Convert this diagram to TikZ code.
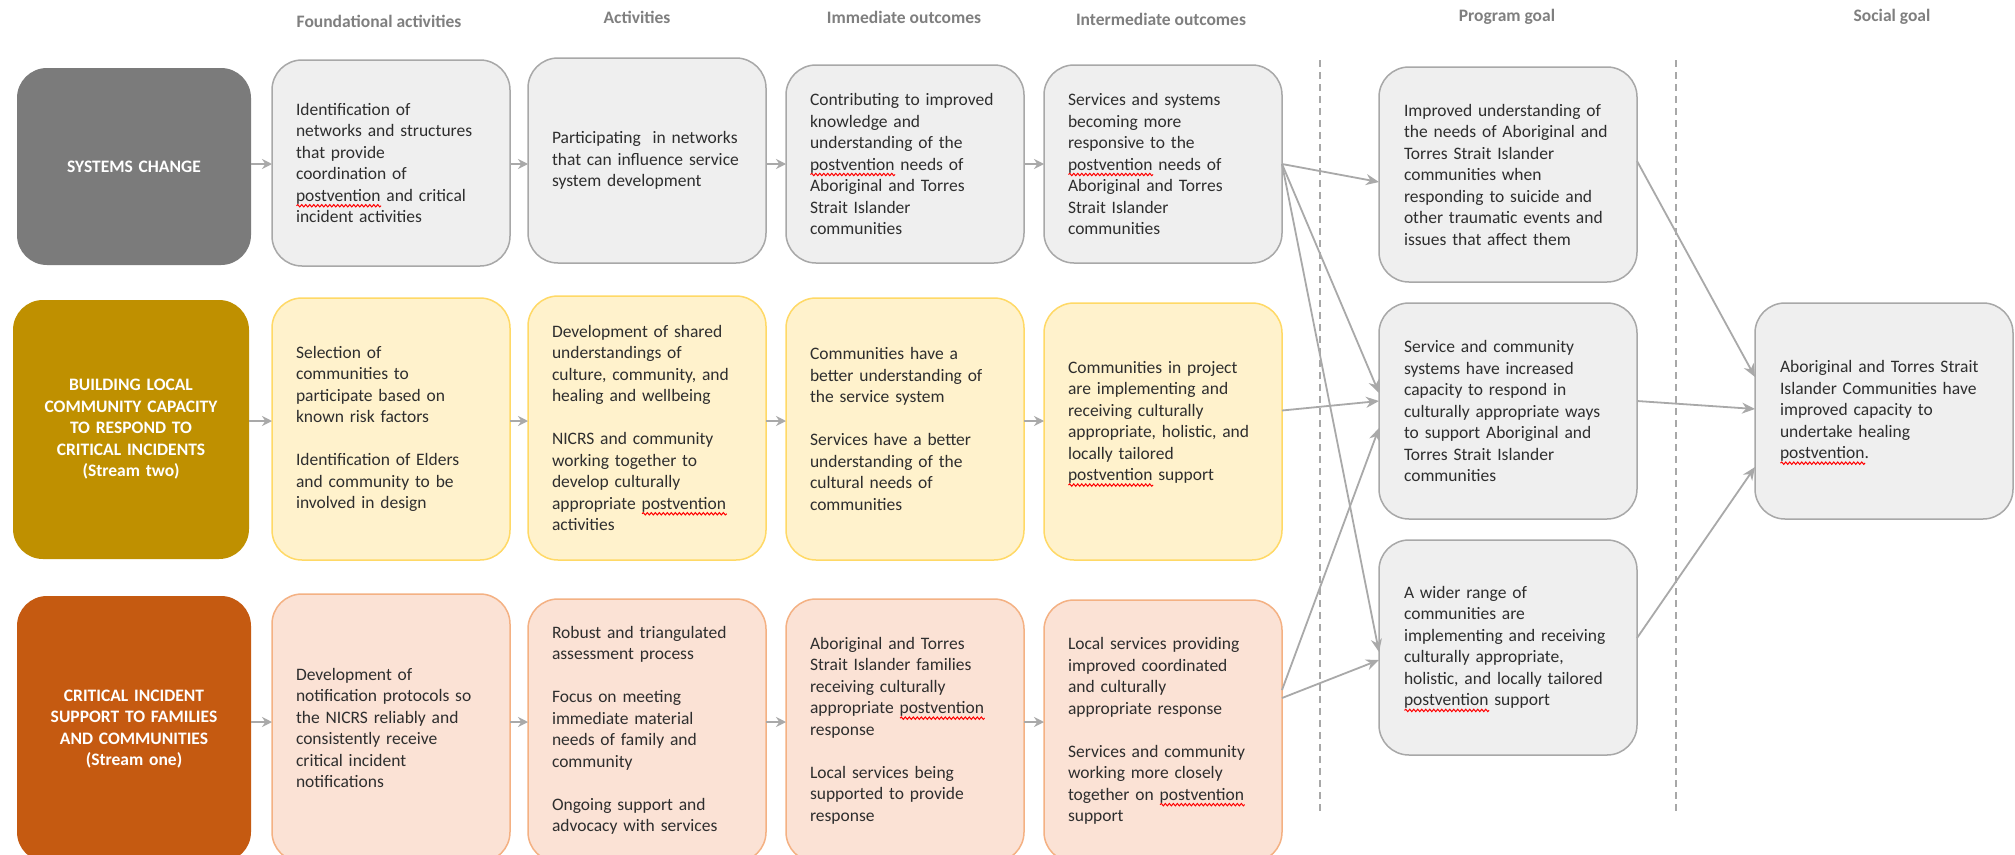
\documentclass[tikz,border=0pt]{standalone}
\usepackage{fontspec}
\setmainfont{Carlito}
\usetikzlibrary{arrows.meta,decorations.pathmorphing}

\definecolor{sysgray}{HTML}{7B7B7B}
\definecolor{gold}{HTML}{BF9000}
\definecolor{rust}{HTML}{C55A11}
\definecolor{paleGray}{HTML}{EFEFEF}
\definecolor{edgeGray}{HTML}{A8A8A8}
\definecolor{paleYellow}{HTML}{FFF2CC}
\definecolor{edgeYellow}{HTML}{FFD966}
\definecolor{palePeach}{HTML}{FBE2D5}
\definecolor{edgePeach}{HTML}{F4B183}
\definecolor{linkGray}{HTML}{A9A9A9}
\definecolor{ink}{HTML}{2E2E2E}
\definecolor{headGray}{HTML}{7F7F7F}

% "postvention" with a red spell-check wave beneath it
\newlength{\pvlen}
\newcommand{\pv}{\leavevmode\settowidth{\pvlen}{postvention}%
  \rlap{\smash{\tikz[baseline=0pt]\draw[red, line width=1bp, sharp corners, decorate,
    decoration={snake, amplitude=1.2bp, segment length=4bp}]
    (0pt,-4.5bp) -- (\pvlen,-4.5bp);}}postvention}

\tikzset{
  card/.style={rounded corners=30bp, line width=1.5bp, inner xsep=24bp, inner ysep=0pt,
    align=left, anchor=north west, outer sep=0pt, text=ink,
    font=\fontsize{17.5bp}{21.5bp}\selectfont},
  narrow/.style={minimum width=238bp, text width=190bp},
  wide/.style={minimum width=258bp, text width=208bp, inner xsep=25bp},
  graycard/.style={card, fill=paleGray, draw=edgeGray},
  yellowcard/.style={card, fill=paleYellow, draw=edgeYellow},
  peachcard/.style={card, fill=palePeach, draw=edgePeach},
  theme/.style={rounded corners=30bp, anchor=north west, outer sep=0pt, inner xsep=10bp,
    inner ysep=0pt, align=center, text=white,
    font=\fontsize{17.5bp}{21.5bp}\selectfont\bfseries},
  colhead/.style={text=headGray, font=\fontsize{17.5bp}{21.5bp}\selectfont\bfseries},
  flow/.style={draw=linkGray, line width=2bp, -{Stealth[length=10bp,width=10bp]}},
  link/.style={draw=linkGray, line width=1.8bp, -{Stealth[length=13bp,width=11bp]}},
  divider/.style={draw=edgeGray, line width=1.3bp, dash pattern=on 7bp off 5bp},
}

\begin{document}
\begin{tikzpicture}[x=1bp, y=-1bp]
\useasboundingbox (0,0) rectangle (2015,855);
\clip (0,0) rectangle (2015,855);
\fill[white] (0,0) rectangle (2015,855);

% column headings
\node[colhead] (hF) at (379,21) {Foundational activities};
\node[colhead] (hA) at (637,17) {Activities};
\node[colhead] (hI) at (904,17) {Immediate outcomes};
\node[colhead] (hT) at (1161,19) {Intermediate outcomes};
\node[colhead] (hP) at (1507,17) {Program goal};
\node[colhead] (hS) at (1892,17) {Social goal};

% dashed dividers
\coordinate (d1t) at (1320,60);  \coordinate (d1b) at (1320,813);
\coordinate (d2t) at (1676,60);  \coordinate (d2b) at (1676,813);
\draw[divider] (d1t) -- (d1b);
\draw[divider] (d2t) -- (d2b);

% ---------- stream themes ----------
\node[theme, fill=sysgray, minimum width=234bp, minimum height=197bp, text width=214bp]
  (L1) at (17,68) {SYSTEMS CHANGE};
\node[theme, fill=gold, minimum width=236bp, minimum height=259bp, text width=216bp]
  (L2) at (13,300) {BUILDING LOCAL\\COMMUNITY CAPACITY\\TO RESPOND TO\\CRITICAL INCIDENTS\\(Stream two)};
\node[theme, fill=rust, minimum width=234bp, minimum height=266bp, text width=214bp]
  (L3) at (17,596) {CRITICAL INCIDENT\\SUPPORT TO FAMILIES\\AND COMMUNITIES\\(Stream one)};

% ---------- row 1: systems change ----------
\node[graycard, narrow, minimum height=206bp] (F1) at (272,60)
  {Identification of\\networks and structures\\that provide\\coordination of\\\pv{} and critical\\incident activities};
\node[graycard, narrow, minimum height=205bp] (A1) at (528,58)
  {Participating\ \ in networks\\that can influence service\\system development};
\node[graycard, narrow, minimum height=198bp] (I1) at (786,65)
  {Contributing to improved\\knowledge and\\understanding of the\\\pv{} needs of\\Aboriginal and Torres\\Strait Islander\\communities};
\node[graycard, narrow, minimum height=198bp] (T1) at (1044,65)
  {Services and systems\\becoming more\\responsive to the\\\pv{} needs of\\Aboriginal and Torres\\Strait Islander\\communities};

% ---------- row 2: local capacity ----------
\node[yellowcard, narrow, minimum height=262bp] (F2) at (272,298)
  {Selection of\\communities to\\participate based on\\known risk factors\\[21.5bp]Identification of Elders\\and community to be\\involved in design};
\node[yellowcard, narrow, minimum height=264bp] (A2) at (528,296)
  {Development of shared\\understandings of\\culture, community, and\\healing and wellbeing\\[21.5bp]NICRS and community\\working together to\\develop culturally\\appropriate \pv\\activities};
\node[yellowcard, narrow, minimum height=262bp] (I2) at (786,298)
  {Communities have a\\better understanding of\\the service system\\[21.5bp]Services have a better\\understanding of the\\cultural needs of\\communities};
\node[yellowcard, narrow, minimum height=257bp] (T2) at (1044,303)
  {Communities in project\\are implementing and\\receiving culturally\\appropriate, holistic, and\\locally tailored\\\pv{} support\\\mbox{}};

% ---------- row 3: critical incident support ----------
\node[peachcard, narrow, minimum height=268bp] (F3) at (272,594)
  {Development of\\notification protocols so\\the NICRS reliably and\\consistently receive\\critical incident\\notifications};
\node[peachcard, narrow, minimum height=263bp] (A3) at (528,599)
  {Robust and triangulated\\assessment process\\[21.5bp]Focus on meeting\\immediate material\\needs of family and\\community\\[21.5bp]Ongoing support and\\advocacy with services};
\node[peachcard, narrow, minimum height=263bp] (I3) at (786,599)
  {Aboriginal and Torres\\Strait Islander families\\receiving culturally\\appropriate \pv\\response\\[21.5bp]Local services being\\supported to provide\\response};
\node[peachcard, narrow, minimum height=262bp] (T3) at (1044,600)
  {Local services providing\\improved coordinated\\and culturally\\appropriate response\\[21.5bp]Services and community\\working more closely\\together on \pv\\support};

% ---------- program goals ----------
\node[graycard, wide, minimum height=215bp] (P1) at (1379,67)
  {Improved understanding of\\the needs of Aboriginal and\\Torres Strait Islander\\communities when\\responding to suicide and\\other traumatic events and\\issues that affect them};
\node[graycard, wide, minimum height=216bp] (P2) at (1379,303)
  {Service and community\\systems have increased\\capacity to respond in\\culturally appropriate ways\\to support Aboriginal and\\Torres Strait Islander\\communities};
\node[graycard, wide, minimum height=215bp] (P3) at (1379,540)
  {A wider range of\\communities are\\implementing and receiving\\culturally appropriate,\\holistic, and locally tailored\\\pv{} support};

% ---------- social goal ----------
\node[graycard, wide, minimum height=216bp] (S) at (1755,303)
  {Aboriginal and Torres Strait\\Islander Communities have\\improved capacity to\\undertake healing\\\pv.};

% ---------- flow along each stream ----------
\coordinate (r1) at (0,164);
\coordinate (r2) at (0,421);
\coordinate (r3) at (0,722);
\foreach \a/\b/\r in {L1/F1/r1, F1/A1/r1, A1/I1/r1, I1/T1/r1,
                      L2/F2/r2, F2/A2/r2, A2/I2/r2, I2/T2/r2,
                      L3/F3/r3, F3/A3/r3, A3/I3/r3, I3/T3/r3}
  \draw[flow] (\a.east |- \r) -- (\b.west |- \r);

% ---------- outcomes to program goals ----------
\draw[link] (T1.east) -- ([yshift=-7.5bp]P1.west);
\draw[link] (T1.east) -- ([yshift=18bp]P2.west);
\draw[link] (T1.east) -- ([yshift=-4.5bp]P3.west);
\draw[link] ([yshift=21bp]T2.east) -- ([yshift=10bp]P2.west);
\draw[link] ([yshift=41bp]T3.east) -- ([yshift=-17bp]P2.west);
\draw[link] ([yshift=33bp]T3.east) -- ([yshift=-12.5bp]P3.west);

% ---------- program goals to social goal ----------
\draw[link] ([yshift=13.5bp]P1.east) -- ([yshift=34bp]S.west);
\draw[link] ([yshift=10bp]P2.east) -- ([yshift=2bp]S.west);
\draw[link] ([yshift=9.5bp]P3.east) -- ([yshift=-56bp]S.west);
\end{tikzpicture}
\end{document}
